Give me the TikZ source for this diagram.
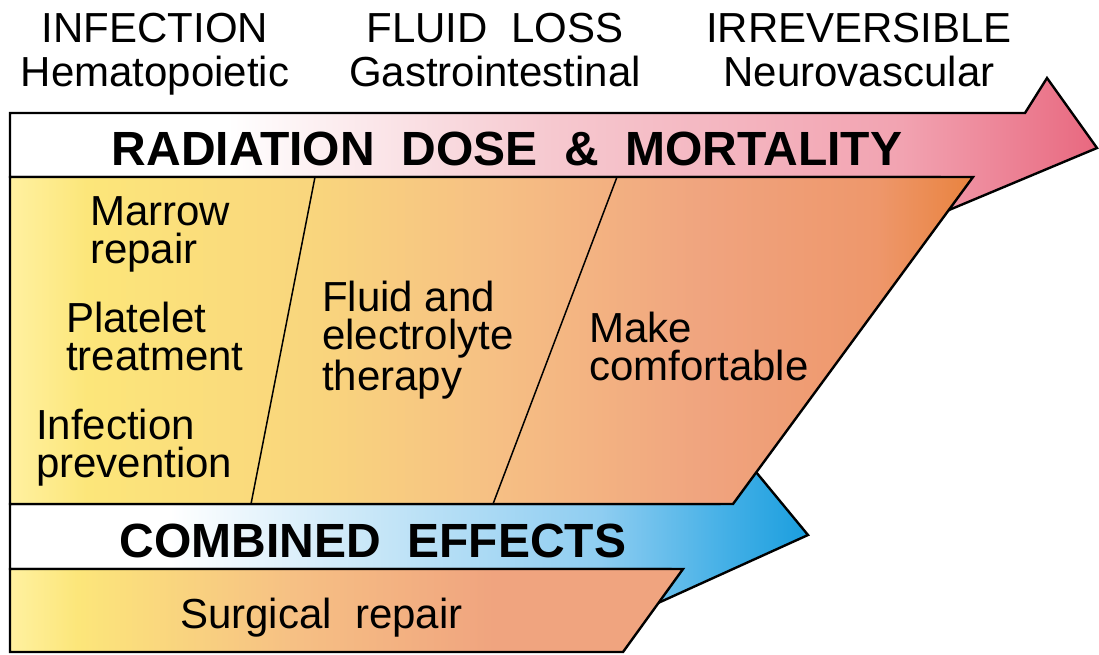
\documentclass[tikz,border=0pt]{standalone}
\usepackage{fontspec}
\setmainfont{Liberation Sans}
\definecolor{dosepinklt}{HTML}{F6C8CF}
\definecolor{dosepink}{HTML}{F2A3B1}
\definecolor{dosered}{HTML}{E8687F}
\definecolor{careyellowlt}{HTML}{FFF1A0}
\definecolor{careyellow}{HTML}{FCE67A}
\definecolor{carepeach}{HTML}{F9D57D}
\definecolor{caresalmon}{HTML}{F6C084}
\definecolor{careorange}{HTML}{F0A47F}
\definecolor{caredark}{HTML}{EE976B}
\definecolor{careburnt}{HTML}{E9833F}
\definecolor{effblt}{HTML}{C2E4F7}
\definecolor{effblue}{HTML}{8ECDF1}
\definecolor{effmid}{HTML}{42AFE6}
\definecolor{effdark}{HTML}{1A9EDE}

\pgfdeclarehorizontalshading{doseshade}{100bp}{color(0bp)=(white); color(25bp)=(white);
  color(35bp)=(white); color(50bp)=(dosepinklt); color(66bp)=(dosepink);
  color(75bp)=(dosered); color(100bp)=(dosered)}
\pgfdeclarehorizontalshading{careshade}{100bp}{color(0bp)=(careyellowlt); color(25bp)=(careyellowlt);
  color(29bp)=(careyellow); color(41bp)=(carepeach); color(50bp)=(caresalmon);
  color(61bp)=(careorange); color(70bp)=(caredark); color(75bp)=(careburnt); color(100bp)=(careburnt)}
\pgfdeclarehorizontalshading{effectshade}{100bp}{color(0bp)=(white); color(25bp)=(white);
  color(35bp)=(white); color(49bp)=(effblt); color(62bp)=(effblue);
  color(70bp)=(effmid); color(75bp)=(effdark); color(100bp)=(effdark)}
\pgfdeclarehorizontalshading{surgeryshade}{100bp}{color(0bp)=(careyellowlt); color(25bp)=(careyellowlt);
  color(30bp)=(careyellow); color(46bp)=(caresalmon); color(61bp)=(careorange);
  color(75bp)=(careorange); color(100bp)=(careorange)}

\begin{document}
\begin{tikzpicture}[x=1pt, y=-1pt,
    outline/.style={draw=black, line width=2.4pt},
    stagetxt/.style={font=\fontsize{42}{44}\selectfont, inner sep=0pt, align=center},
    txt/.style={font=\fontsize{42}{38}\selectfont, inner sep=0pt, align=left},
    headtxt/.style={font=\bfseries\fontsize{48}{48}\selectfont, inner sep=0pt}]
  \useasboundingbox (0,0) rectangle (1099,654);
  % dose arrow (behind the care panel)
  \shadedraw[outline, shading=doseshade] (10,113) -- (1025,113) -- (1047,78) -- (1097,148)
    -- (949,210) -- (940,177) -- (10,177) -- cycle;
  % combined effects arrow
  \shadedraw[outline, shading=effectshade] (10,504) -- (720,504) -- (756,472) -- (808,535)
    -- (658,603) -- (670,569) -- (10,569) -- cycle;
  % care panel
  \shadedraw[outline, shading=careshade] (10,177) -- (973,177) -- (733,504) -- (10,504) -- cycle;
  \draw[line width=1.5pt] (315,177) -- (251,504);
  \draw[line width=1.5pt] (617,177) -- (493,504);
  % surgery panel
  \shadedraw[outline, shading=surgeryshade] (10,569) -- (683,569) -- (623,652) -- (10,652) -- cycle;
  % stages (base = last line)
  \node[stagetxt, anchor=base] (infection) at (155,86) {INFECTION\\Hematopoietic};
  \node[stagetxt, anchor=base] (fluidloss) at (495,86) {FLUID\ \ LOSS\\Gastrointestinal};
  \node[stagetxt, anchor=base] (irrev) at (859,86) {IRREVERSIBLE\\Neurovascular};
  % headings
  \node[headtxt, anchor=base] (dose) at (507,165) {RADIATION\ \ DOSE\ \ \&\ \ MORTALITY};
  \node[headtxt, anchor=base] (combined) at (373,557) {COMBINED\ \ EFFECTS};
  % treatments
  \node[txt, anchor=base west] (marrow) at (90,263) {Marrow\\repair};
  \node[txt, anchor=base west] (platelet) at (66,370) {Platelet\\treatment};
  \node[txt, anchor=base west] (prevent) at (36,477) {Infection\\prevention};
  \node[txt, anchor=base west] (electro) at (322,390) {Fluid and\\electrolyte\\therapy};
  \node[txt, anchor=base west] (comfort) at (589,380) {Make\\comfortable};
  \node[txt, anchor=base west] (surgery) at (180,628) {Surgical\ \ repair};
\end{tikzpicture}
\end{document}
